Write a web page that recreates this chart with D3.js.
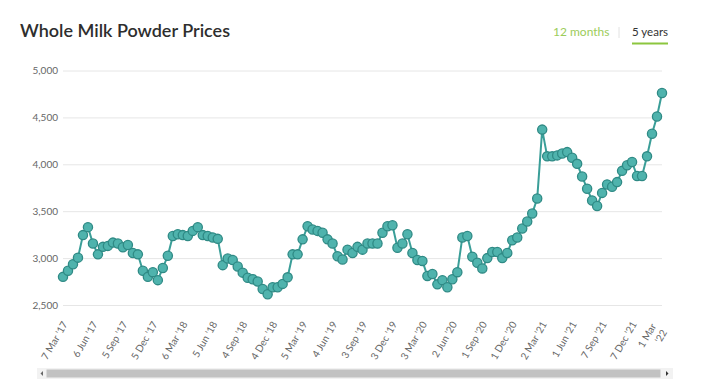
<!DOCTYPE html>
<html>
<head>
<meta charset="utf-8">
<script src="https://cdn.jsdelivr.net/npm/d3@7/dist/d3.min.js"></script>
<style>
  html, body { margin: 0; padding: 0; background: #fff; }
  svg { display: block; font-family: Lato, "Open Sans", sans-serif; }
</style>
</head>
<body>
<svg id="chart" width="701" height="392"></svg>
<script>
// GDT Whole Milk Powder average price (USD/t), fortnightly auctions, 7 Mar 2017 – 1 Mar 2022
const prices = [
  2800, 2865, 2935, 3005, 3245, 3330, 3155, 3040, 3120, 3130,
  3165, 3155, 3115, 3140, 3055, 3040, 2865, 2800, 2850, 2765,
  2895, 3025, 3235, 3255, 3245, 3235, 3290, 3330, 3245, 3235,
  3220, 3205, 2925, 2995, 2980, 2910, 2845, 2790, 2775, 2750,
  2670, 2615, 2690, 2690, 2725, 2795, 3040, 3040, 3200, 3340,
  3305, 3290, 3270, 3200, 3155, 3020, 2985, 3090, 3055, 3120,
  3090, 3155, 3155, 3155, 3270, 3340, 3350, 3110, 3155, 3255,
  3055, 2980, 2970, 2810, 2830, 2720, 2765, 2690, 2775, 2850,
  3220, 3235, 3015, 2950, 2890, 3000, 3065, 3065, 3000, 3055,
  3190, 3220, 3315, 3390, 3475, 3635, 4370, 4085, 4085, 4095,
  4115, 4130, 4070, 4005, 3870, 3740, 3615, 3555, 3695, 3785,
  3760, 3810, 3930, 3990, 4025, 3875, 3875, 4085, 4325, 4510,
  4760
];
// one tick label every 6 auctions
const tickLabels = [
  "7 Mar '17", "6 Jun '17", "5 Sep '17", "5 Dec '17", "6 Mar '18",
  "5 Jun '18", "4 Sep '18", "4 Dec '18", "5 Mar '19", "4 Jun '19",
  "3 Sep '19", "3 Dec '19", "3 Mar '20", "2 Jun '20", "1 Sep '20",
  "1 Dec '20", "2 Mar '21", "1 Jun '21", "7 Sep '21", "7 Dec '21",
  "1 Mar|'22"
];
const tickStep = 6;
const yTicks = [2500, 3000, 3500, 4000, 4500, 5000];
const title = "Whole Milk Powder Prices";
const rangeTabs = ["12 months", "5 years"];

const svg = d3.select("#chart");
const plot = { left: 63, right: 662, top: 70.5, bottom: 305 };

const x = d3.scaleLinear().domain([0, prices.length - 1]).range([plot.left, plot.right]);
const y = d3.scaleLinear().domain([2500, 5000]).range([plot.bottom, plot.top]);

// Title
svg.append("text").attr("x", 20).attr("y", 37)
  .attr("font-size", 18).attr("font-weight", 600).attr("fill", "#2e2e2e")
  .text(title);

// Range tabs
svg.append("text").attr("x", 553).attr("y", 36)
  .attr("font-size", 12).attr("fill", "#9ccc5a").text(rangeTabs[0]);
svg.append("line").attr("x1", 619).attr("x2", 619).attr("y1", 27).attr("y2", 38)
  .attr("stroke", "#e2e2e2").attr("stroke-width", 1);
svg.append("text").attr("x", 632).attr("y", 36)
  .attr("font-size", 11.5).attr("fill", "#333").text(rangeTabs[1]);
svg.append("line").attr("x1", 632).attr("x2", 668).attr("y1", 43.5).attr("y2", 43.5)
  .attr("stroke", "#8cc63f").attr("stroke-width", 2);

// Y axis gridlines + labels
const yAxis = d3.axisLeft(y).tickValues(yTicks)
  .tickSize(-(plot.right - plot.left))
  .tickFormat(d3.format(","));
const gy = svg.append("g").attr("transform", `translate(${plot.left},0)`).call(yAxis);
gy.select(".domain").remove();
gy.selectAll(".tick line").attr("stroke", "#e6e6e6");
gy.selectAll(".tick text").attr("x", -5).attr("fill", "#666")
  .attr("font-size", 10).attr("font-family", "Lato, sans-serif");

// X axis labels (rotated)
const tickIdx = tickLabels.map((_, i) => i * tickStep);
const xAxis = d3.axisBottom(x).tickValues(tickIdx).tickSize(0).tickFormat(() => "");
const gx = svg.append("g").attr("transform", `translate(0,${plot.bottom})`).call(xAxis);
gx.select(".domain").remove();
gx.selectAll(".tick").each(function (d, i) {
  const parts = tickLabels[i].split("|");
  const t = d3.select(this).append("text")
    .attr("transform", "translate(4.5,19) rotate(-60)")
    .attr("text-anchor", "end")
    .attr("fill", "#666").attr("font-size", 10).attr("font-family", "Lato, sans-serif");
  if (parts.length === 1) {
    t.text(parts[0]);
  } else {
    t.append("tspan").attr("x", 0).attr("dy", 0).text(parts[0]);
    t.append("tspan").attr("x", 0).attr("dy", "1.25em").text(parts[1]);
    t.attr("transform", "translate(-6,21) rotate(-60)");
  }
});

// Line
const line = d3.line().x((d, i) => x(i)).y(d => y(d));
svg.append("path").datum(prices).attr("d", line)
  .attr("fill", "none").attr("stroke", "#3a9e98").attr("stroke-width", 2);

// Markers
svg.append("g").selectAll("circle").data(prices).join("circle")
  .attr("cx", (d, i) => x(i)).attr("cy", d => y(d)).attr("r", 4.6)
  .attr("fill", "#4fb3ad").attr("stroke", "#2f8a85").attr("stroke-width", 1.3);

// Scrollbar
const sb = svg.append("g");
sb.append("rect").attr("x", 37).attr("y", 368).attr("width", 636).attr("height", 11).attr("fill", "#f2f2f2");
sb.append("rect").attr("x", 46.5).attr("y", 369.5).attr("width", 614).attr("height", 8).attr("fill", "#c2c2c2");
sb.append("path").attr("d", "M43,371 L43,376 L40.5,373.5 Z").attr("fill", "#666");
sb.append("path").attr("d", "M666,371 L666,376 L668.5,373.5 Z").attr("fill", "#333");
</script>
</body>
</html>
